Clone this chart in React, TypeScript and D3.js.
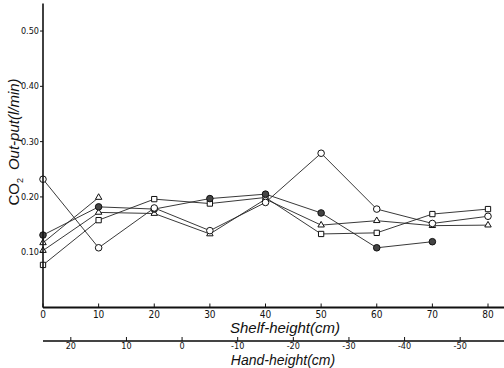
import React from "react";
import * as d3 from "d3";

const shelf = [0, 10, 20, 30, 40, 50, 60, 70, 80];
const openCircle = [0.232, 0.108, 0.18, 0.139, 0.19, 0.279, 0.178, 0.152, 0.165];
const filledCircle = [0.131, 0.182, 0.178, 0.197, 0.205, 0.171, 0.108, 0.119];
const triangleShort = [0.117, 0.199];
const triangle = [0.103, 0.172, 0.17, 0.133, 0.196, 0.149, 0.157, 0.148, 0.149];
const square = [0.077, 0.158, 0.196, 0.188, 0.199, 0.133, 0.135, 0.169, 0.178];

const yTicks = [0.1, 0.2, 0.3, 0.4, 0.5];
const yTickLabels = ["0.10", "0.20", "0.30", "0.40", "0.50"];
const shelfTicks = [0, 10, 20, 30, 40, 50, 60, 70, 80];
const handTicks = [20, 10, 0, -10, -20, -30, -40, -50];

const W = 504;
const H = 368;

export default function App() {
  const x = d3.scaleLinear().domain([0, 80]).range([43, 488]);
  const y = d3.scaleLinear().domain([0, 0.55]).range([307.5, 3.4]);
  const hand = d3.scaleLinear().domain([25, -55]).range([43, 488]);

  const line = d3
    .line<[number, number]>()
    .x((d) => x(d[0]))
    .y((d) => y(d[1]));

  type S = { vals: number[]; shape: "circle" | "square" | "triangle"; fill: string };
  const series: S[] = [
    { vals: square, shape: "square", fill: "#fff" },
    { vals: triangle, shape: "triangle", fill: "#fff" },
    { vals: triangleShort, shape: "triangle", fill: "#fff" },
    { vals: filledCircle, shape: "circle", fill: "#444" },
    { vals: openCircle, shape: "circle", fill: "#fff" },
  ];

  const sym = (shape: string) => {
    if (shape === "square") return d3.symbol().type(d3.symbolSquare).size(28)()!;
    if (shape === "triangle") return d3.symbol().type(d3.symbolTriangle).size(18)()!;
    return d3.symbol().type(d3.symbolCircle).size(34)()!;
  };

  const tickFont = "'DejaVu Sans Condensed', 'Liberation Sans Narrow', sans-serif";
  const titleFont = "'Liberation Sans', Arial, sans-serif";

  return (
    <svg
      width={W}
      height={H}
      style={{ position: "absolute", left: 0, top: 0, background: "#fff" }}
    >
      <rect x={0} y={0} width={W} height={H} fill="#fff" />
      {series.map((s, i) => (
        <path
          key={"l" + i}
          d={line(s.vals.map((v, j) => [shelf[j], v] as [number, number]))!}
          fill="none"
          stroke="#222"
          strokeWidth={0.9}
        />
      ))}
      {series.map((s, i) =>
        s.vals.map((v, j) => (
          <path
            key={"m" + i + "-" + j}
            d={sym(s.shape)}
            transform={`translate(${x(shelf[j])},${y(v)})`}
            fill={s.fill}
            stroke="#111"
            strokeWidth={1}
          />
        ))
      )}
      <line x1={x(0)} x2={x(0)} y1={y(0.55)} y2={y(0)} stroke="#111" strokeWidth={1.6} />
      {yTicks.map((t, i) => (
        <g key={"yt" + i}>
          <line x1={x(0) - 3} x2={x(0)} y1={y(t)} y2={y(t)} stroke="#111" strokeWidth={1} />
          <text
            x={x(0) - 4}
            y={y(t) + 3}
            textAnchor="end"
            fontSize={9}
            fontFamily={tickFont}
            fill="#111"
          >
            {yTickLabels[i]}
          </text>
        </g>
      ))}
      <text
        transform={`translate(19,142) rotate(-90)`}
        textAnchor="middle"
        fontSize={15}
        fontFamily={titleFont}
        fill="#111"
      >
        <tspan>CO</tspan>
        <tspan fontSize={9} dy={4}>2</tspan>
        <tspan dy={-4} dx={8} fontStyle="italic">Out-put(l/min)</tspan>
      </text>
      <line x1={x(0)} x2={W} y1={y(0)} y2={y(0)} stroke="#111" strokeWidth={1.8} />
      {shelfTicks.map((t) => (
        <g key={"xt" + t}>
          <line x1={x(t)} x2={x(t)} y1={y(0)} y2={y(0) - 4} stroke="#111" strokeWidth={1} />
          <text
            x={x(t)}
            y={y(0) + 10}
            textAnchor="middle"
            fontSize={10}
            fontFamily={tickFont}
            fill="#111"
          >
            {t}
          </text>
        </g>
      ))}
      <text
        x={285}
        y={333}
        textAnchor="middle"
        fontSize={15}
        fontStyle="italic"
        fontFamily={titleFont}
        fill="#111"
      >
        Shelf-height(cm)
      </text>
      <line x1={x(0)} x2={W} y1={341} y2={341} stroke="#444" strokeWidth={1.8} />
      {handTicks.map((t) => (
        <g key={"ht" + t}>
          <line x1={hand(t)} x2={hand(t)} y1={341} y2={337} stroke="#111" strokeWidth={1} />
          <text
            x={hand(t)}
            y={349}
            textAnchor="middle"
            fontSize={9}
            fontFamily={tickFont}
            fill="#111"
          >
            {t}
          </text>
        </g>
      ))}
      <text
        x={283}
        y={365}
        textAnchor="middle"
        fontSize={14}
        fontStyle="italic"
        fontFamily={titleFont}
        fill="#111"
      >
        Hand-height(cm)
      </text>
    </svg>
  );
}
